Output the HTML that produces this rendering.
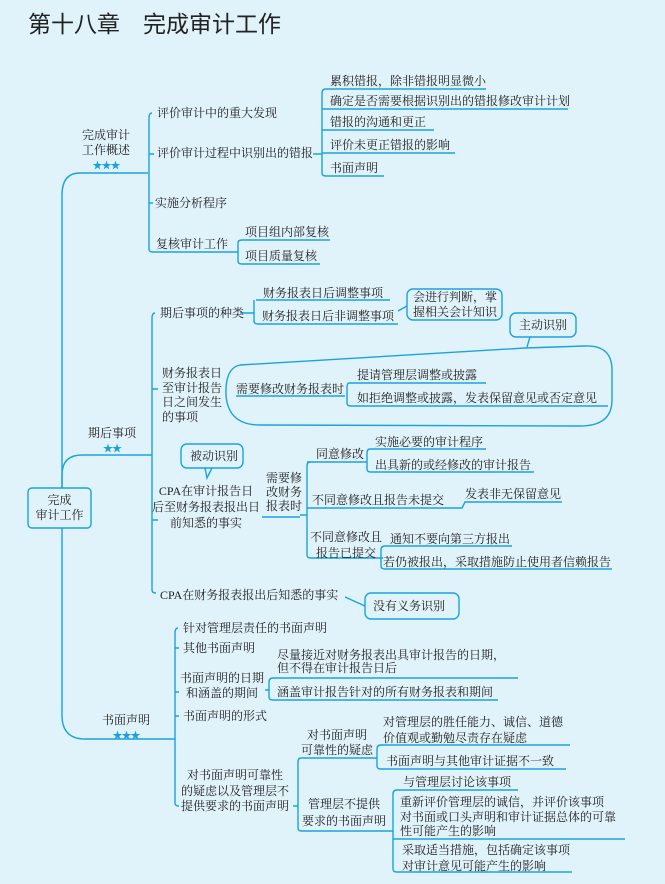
<!DOCTYPE html>
<html><head><meta charset="utf-8"><style>
body{margin:0;width:665px;height:884px;background:#e0f2fa;position:relative;overflow:hidden;font-family:"Liberation Serif","Noto Serif CJK SC","Noto Sans CJK SC",serif;color:#222}
.t{position:absolute;font-size:12px;line-height:15px;white-space:nowrap}
.s{color:#1a9fe0;font-size:10px;letter-spacing:-1px}
svg{position:absolute;left:0;top:0}
.c{text-align:center}
</style></head><body>
<svg width="665" height="884" fill="none" stroke="#1aa3df" stroke-width="1.4">
<!-- root trunk -->
<path d="M148 173H80Q62 173 62 195V488"/>
<path d="M62 528V715Q62 739 85 739H175"/>
<path d="M62 488V475Q62 455 82 455H152"/>
<rect x="28" y="488" width="63" height="40" rx="4"/>
<!-- section1 -->
<path d="M152 113Q149 113 149 118V249Q149 252 153 252H236"/>
<path d="M149 154H154M149 203H153"/>
<path d="M236 252H238V243Q238 240 242 240H330M238 252V261Q238 264 242 264H320"/>
<path d="M313 154H322M326 89Q322 89 322 93V173Q322 176 326 176H384M326 89H486M322 109H568M322 130H434M322 153H455"/>
<!-- section2 -->
<path d="M155 313Q152 313 152 318V590Q152 593 156 593"/>
<path d="M152 389H158M152 520H158"/>
<path d="M240 313H254M254 300V321Q254 324 258 324H398M256 300H390"/>
<path d="M398 311L407 306"/>
<rect x="407" y="289" width="95" height="31" rx="6"/>
<rect x="510" y="313" width="66" height="24" rx="6"/>
<path d="M530 337L527 347"/>
<path d="M240 365Q225 368 226 395Q228 425 260 425L580 426Q612 426 612 400L612 370Q612 345 585 346L525 348Z"/>
<path d="M236 396H345M349 383Q347 383 347 388V403Q347 406 351 406H608M349 383H486"/>
<rect x="181" y="444" width="62" height="24" rx="6"/>
<path d="M205 468L207 478L212 468"/>
<path d="M262 517H300"/>
<path d="M310 462Q307 462 307 466V555Q307 558 311 558H375M307 508H462L465 502H562M307 515H300"/>
<path d="M307 462H367M370 449Q367 449 367 453V469Q367 472 371 472H534M370 449H486"/>
<path d="M375 558H383M385 546Q381 546 381 550V566Q381 569 385 569H612M385 546H512"/>
<path d="M345 597L365 606"/>
<rect x="365" y="593" width="94" height="26" rx="6"/>
<!-- section3 -->
<path d="M178 628Q175 628 175 633V803Q175 806 179 806"/>
<path d="M175 648H179M175 692H179M175 716H179"/>
<path d="M265 690H269M273 678Q269 678 269 682V697Q269 700 273 700H498M273 678H518"/>
<path d="M298 806H293M301 758Q298 758 298 762V828Q298 831 302 831H393M301 758H377"/>
<path d="M377 758V766Q377 769 381 769H566M381 745Q377 745 377 749V758M381 745H570"/>
<path d="M397 790Q393 790 393 794V869Q393 872 397 872H572M397 790H518M393 839H625"/>
</svg>
<div class="t" style="left:28px;top:10px;font-size:23px;line-height:28px;font-family:'Liberation Sans','Noto Sans CJK SC',sans-serif">第十八章　完成审计工作</div>

<div class="t c" style="left:82px;top:128px">完成审计<br>工作概述<br><span class="s">★★★</span></div>
<div class="t" style="left:157px;top:106px">评价审计中的重大发现</div>
<div class="t" style="left:157px;top:146px">评价审计过程中识别出的错报</div>
<div class="t" style="left:155px;top:196px">实施分析程序</div>
<div class="t" style="left:156px;top:237px">复核审计工作</div>
<div class="t" style="left:245px;top:225px">项目组内部复核</div>
<div class="t" style="left:245px;top:249px">项目质量复核</div>
<div class="t" style="left:330px;top:74px">累积错报，除非错报明显微小</div>
<div class="t" style="left:330px;top:94px">确定是否需要根据识别出的错报修改审计计划</div>
<div class="t" style="left:330px;top:115px">错报的沟通和更正</div>
<div class="t" style="left:330px;top:138px">评价未更正错报的影响</div>
<div class="t" style="left:330px;top:161px">书面声明</div>

<div class="t c" style="left:88px;top:426px">期后事项<br><span class="s">★★</span></div>
<div class="t" style="left:160px;top:306px">期后事项的种类</div>
<div class="t" style="left:263px;top:286px">财务报表日后调整事项</div>
<div class="t" style="left:262px;top:309px">财务报表日后非调整事项</div>
<div class="t" style="left:413px;top:290px">会进行判断，掌<br>握相关会计知识</div>
<div class="t" style="left:519px;top:318px">主动识别</div>
<div class="t" style="left:162px;top:366px;line-height:14.5px">财务报表日<br>至审计报告<br>日之间发生<br>的事项</div>
<div class="t" style="left:236px;top:382px">需要修改财务报表时</div>
<div class="t" style="left:357px;top:368px">提请管理层调整或披露</div>
<div class="t" style="left:357px;top:391px">如拒绝调整或披露，发表保留意见或否定意见</div>
<div class="t" style="left:190px;top:449px">被动识别</div>
<div class="t c" style="left:152px;top:483px;line-height:16px">CPA在审计报告日<br>后至财务报表报出日<br>前知悉的事实</div>
<div class="t" style="left:266px;top:471px;line-height:14px">需要修<br>改财务<br>报表时</div>
<div class="t" style="left:316px;top:447px">同意修改</div>
<div class="t" style="left:375px;top:435px">实施必要的审计程序</div>
<div class="t" style="left:375px;top:458px">出具新的或经修改的审计报告</div>
<div class="t" style="left:312px;top:493px">不同意修改且报告未提交</div>
<div class="t" style="left:465px;top:487px">发表非无保留意见</div>
<div class="t c" style="left:310px;top:529px;line-height:16px">不同意修改且<br>报告已提交</div>
<div class="t" style="left:390px;top:532px">通知不要向第三方报出</div>
<div class="t" style="left:383px;top:555px">若仍被报出，采取措施防止使用者信赖报告</div>
<div class="t" style="left:160px;top:588px">CPA在财务报表报出后知悉的事实</div>
<div class="t" style="left:373px;top:599px">没有义务识别</div>

<div class="t c" style="left:102px;top:713px">书面声明<br><span class="s">★★★</span></div>
<div class="t" style="left:183px;top:621px">针对管理层责任的书面声明</div>
<div class="t" style="left:183px;top:641px">其他书面声明</div>
<div class="t c" style="left:180px;top:671px;line-height:15px">书面声明的日期<br>和涵盖的期间</div>
<div class="t" style="left:277px;top:649px;line-height:13px">尽量接近对财务报表出具审计报告的日期，<br>但不得在审计报告日后</div>
<div class="t" style="left:277px;top:685px">涵盖审计报告针对的所有财务报表和期间</div>
<div class="t" style="left:183px;top:709px">书面声明的形式</div>
<div class="t c" style="left:181px;top:768px;line-height:15.5px">对书面声明可靠性<br>的疑虑以及管理层不<br>提供要求的书面声明</div>
<div class="t c" style="left:301px;top:728px;line-height:15px">对书面声明<br>可靠性的疑虑</div>
<div class="t" style="left:383px;top:714px;line-height:16px">对管理层的胜任能力、诚信、道德<br>价值观或勤勉尽责存在疑虑</div>
<div class="t" style="left:386px;top:754px">书面声明与其他审计证据不一致</div>
<div class="t c" style="left:302px;top:796px;line-height:17px">管理层不提供<br>要求的书面声明</div>
<div class="t" style="left:403px;top:775px">与管理层讨论该事项</div>
<div class="t" style="left:400px;top:795px;line-height:14.5px">重新评价管理层的诚信，并评价该事项<br>对书面或口头声明和审计证据总体的可靠<br>性可能产生的影响</div>
<div class="t" style="left:402px;top:842px;line-height:16px">采取适当措施，包括确定该事项<br>对审计意见可能产生的影响</div>
<div class="t c" style="left:28px;top:493px;width:63px">完成<br>审计工作</div>
</body></html>
